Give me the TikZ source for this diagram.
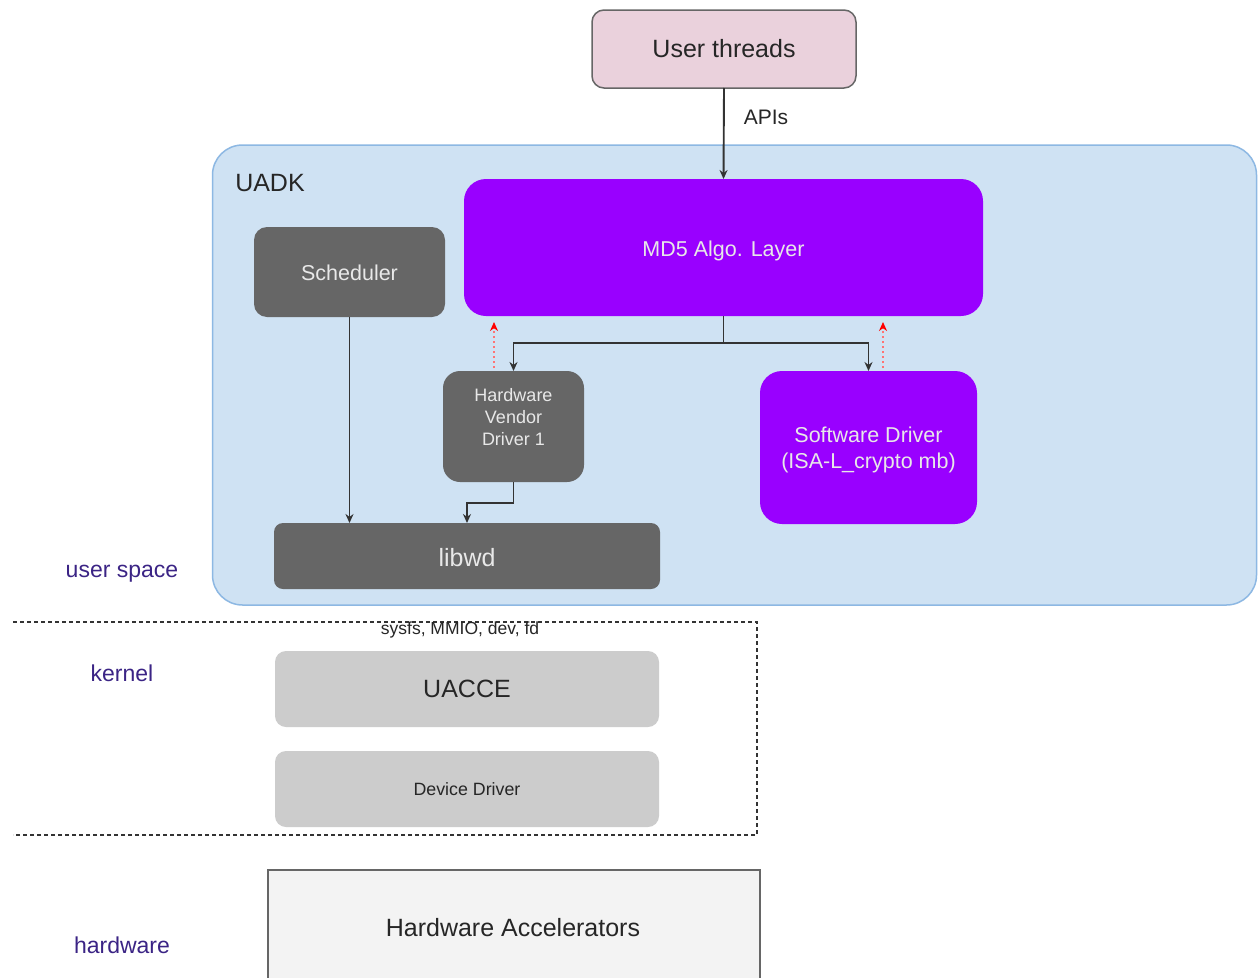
\documentclass[tikz,border=0pt]{standalone}
\usepackage{fontspec}
\setmainfont{Liberation Sans}
\usetikzlibrary{arrows.meta}
\definecolor{pinkfill}{HTML}{EAD1DC}
\definecolor{uadkfill}{HTML}{CFE2F3}
\definecolor{uadkline}{HTML}{8DB8E3}
\definecolor{purp}{HTML}{9900FF}
\definecolor{darkg}{HTML}{666666}
\definecolor{lightg}{HTML}{CCCCCC}
\definecolor{paleg}{HTML}{F3F3F3}
\definecolor{lbl}{HTML}{3B2485}
\definecolor{ltxt}{HTML}{E8E8E8}
\newcommand{\fsz}[1]{\fontsize{#1}{#1}\selectfont}
\tikzset{
  box/.style={inner sep=0pt, outer sep=0pt, align=center},
  arr/.style={draw=black!80, line width=1.9pt, -{Stealth[length=9pt,width=8pt]}},
  redarr/.style={draw=red!55, line width=1.8pt, dash pattern=on 2pt off 3pt, -{Stealth[length=9pt,width=8pt,color=red,fill=red]}},
  sep/.style={draw=black!80, line width=1.3pt, dash pattern=on 4pt off 3pt},
  side/.style={text=lbl, font=\fsz{23}},
}
\begin{document}
\begin{tikzpicture}[x=1pt,y=-1pt]
\clip (0,0) rectangle (1258,977);
\fill[white] (0,0) rectangle (1258,977);

% UADK container
\node[box, draw=uadkline, line width=1.5pt, fill=uadkfill, rounded corners=30pt,
      minimum width=1044pt, minimum height=460pt] (uadk) at (734.5,375) {};
\node[box, font=\fsz{25}, text=black!85] (uadkt) at (270,183) {UADK};

% User threads
\node[box, draw=darkg, line width=1.5pt, fill=pinkfill, rounded corners=12pt,
      minimum width=264pt, minimum height=78pt, font=\fsz{25}, text=black!85] (ut) at (724,49) {User threads};

% MD5 layer
\node[box, fill=purp, rounded corners=22pt, minimum width=519pt, minimum height=137pt] (md5) at (723.5,247.5) {};
\node[box, text=ltxt, font=\fsz{21.5}] (md5t) at (723.5,251) {MD5 Algo. Layer};

% Scheduler
\node[box, fill=darkg, rounded corners=13pt, minimum width=191pt, minimum height=90pt] (sched) at (349.5,272) {};
\node[box, text=ltxt, font=\fsz{21.5}] (schedt) at (349.5,273) {Scheduler};

% Hardware Vendor Driver 1
\node[box, fill=darkg, rounded corners=17pt, minimum width=141pt, minimum height=111pt] (hvd) at (513.5,426.5) {};
\node[box, text=ltxt, font=\fontsize{18}{22}\selectfont] (hvdt) at (513.5,417) {Hardware\\Vendor\\Driver 1};

% Software driver
\node[box, fill=purp, rounded corners=22pt, minimum width=217pt, minimum height=153pt] (sw) at (868.5,447.5) {};
\node[box, text=ltxt, font=\fontsize{21.5}{26}\selectfont] (swt) at (868.5,449.5) {Software Driver\\(ISA-L\_crypto mb)};

% libwd
\node[box, fill=darkg, rounded corners=9pt, minimum width=386pt, minimum height=66pt] (libwd) at (467,556) {};
\node[box, text=ltxt, font=\fsz{25}] (libwdt) at (467,558) {libwd};

% kernel boxes
\node[box, fill=lightg, rounded corners=11pt, minimum width=384pt, minimum height=76pt,
      font=\fsz{25}, text=black!85] (uacce) at (467,689) {UACCE};
\node[box, fill=lightg, rounded corners=11pt, minimum width=384pt, minimum height=76pt,
      font=\fsz{17.8}, text=black!85] (dd) at (467,789) {Device Driver};

% hardware accelerators
\draw[draw=darkg, line width=1.6pt, fill=paleg] (268,870) rectangle (760,1000);
\node[box, font=\fsz{25}, text=black!85] (hwa) at (513,928) {Hardware Accelerators};

% side labels
\node[side] (us) at (122,574) {user space};
\node[side] (kn) at (122,673) {kernel};
\node[side] (hw) at (122,945) {hardware};

% separators
\draw[sep] (13,622) -- (757,622) -- (757,835) -- (13,835);
\node[box, font=\fsz{17.5}, text=black!85] (sysfs) at (460,630) {sysfs, MMIO, dev, fd};

% connectors
\draw[arr] (ut.south) -- (md5.north);
\node[box, font=\fsz{21}, text=black!85] (apis) at (766,117) {APIs};

\coordinate (j) at (723.5,343);
\draw[draw=black!80, line width=1.9pt] (md5.south) -- (j);
\draw[arr] (j) -| (hvd.north);
\draw[arr] (j) -| (sw.north);

\draw[arr] (sched.south) -- (sched.south |- libwd.north);
\draw[arr] (hvd.south) -- ++(0,21) -| (libwd.north);

\coordinate (r1a) at (494,368);
\coordinate (r1b) at (494,322);
\coordinate (r2a) at (883,368);
\coordinate (r2b) at (883,322);
\draw[redarr] (r1a) -- (r1b);
\draw[redarr] (r2a) -- (r2b);
\end{tikzpicture}
\end{document}
